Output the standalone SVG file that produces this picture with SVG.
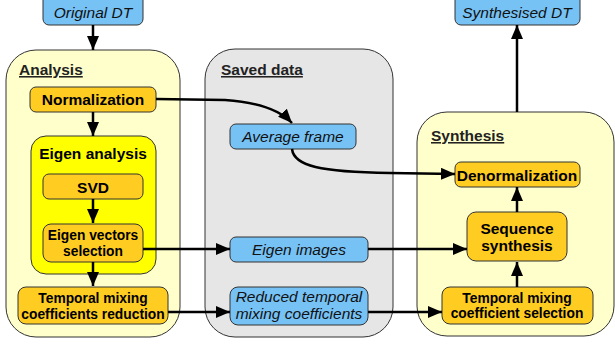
<svg xmlns="http://www.w3.org/2000/svg" width="615" height="347" viewBox="0 0 615 347">
<defs>
<marker id="ah" markerUnits="userSpaceOnUse" markerWidth="14" markerHeight="12" refX="14" refY="6" orient="auto">
<path d="M0,0 L14,6 L0,12 z" fill="#000"/>
</marker>
<style>
.cont{stroke:#333;stroke-width:1}
.blue{fill:#77c2f5;stroke:#333;stroke-width:1}
.org{fill:#ffcc22;stroke:#333;stroke-width:1}
.t{font-family:"Liberation Sans",Arial,sans-serif;font-size:15.5px;fill:#000;text-anchor:middle}
.b{font-weight:bold}
.i{font-style:italic;fill:#111}
.s{font-size:13.8px}
.title{font-family:"Liberation Sans",Arial,sans-serif;font-size:15.5px;font-weight:bold;fill:#222;text-decoration:underline}
.c{fill:none;stroke:#000;stroke-width:2.5;marker-end:url(#ah)}
.cn{fill:none;stroke:#000;stroke-width:2.5}
</style>
</defs>
<g id="analysis">
<rect class="cont" x="6" y="50" width="174" height="287" rx="30" fill="#ffffcc"/>
<text class="title" x="19" y="75">Analysis</text>
</g>
<g id="saved">
<rect class="cont" x="205" y="49" width="188" height="288" rx="30" fill="#e6e6e6"/>
<text class="title" x="221" y="75">Saved data</text>
</g>
<g id="synthesis">
<rect class="cont" x="417" y="112" width="197" height="224" rx="30" fill="#ffffcc"/>
<text class="title" x="431" y="141">Synthesis</text>
</g>
<g id="eigen-analysis">
<rect x="31" y="136" width="125" height="138" rx="15" fill="#ffff00" stroke="#333" stroke-width="1"/>
<text class="t b" x="93" y="159">Eigen analysis</text>
</g>
<g id="original-dt">
<rect class="blue" x="43" y="-6" width="100" height="31" rx="6"/>
<text class="t i" x="93" y="18">Original DT</text>
</g>
<g id="synthesised-dt">
<rect class="blue" x="455" y="-6" width="125" height="31" rx="6"/>
<text class="t i" x="517" y="18">Synthesised DT</text>
</g>
<g id="normalization">
<rect class="org" x="30" y="87" width="126" height="25" rx="6"/>
<text class="t b" x="93" y="105">Normalization</text>
</g>
<g id="svd">
<rect class="org" x="43" y="174" width="100" height="25" rx="6"/>
<text class="t b" x="93" y="193">SVD</text>
</g>
<g id="eigen-vectors">
<rect class="org" x="43" y="224" width="100" height="38" rx="8"/>
<text class="t b s" x="93" y="240">Eigen vectors</text>
<text class="t b s" x="93" y="256">selection</text>
</g>
<g id="temporal-reduction">
<rect class="org" x="18" y="287" width="150" height="37" rx="8"/>
<text class="t b s" x="93" y="303">Temporal mixing</text>
<text class="t b s" x="93" y="319">coefficients reduction</text>
</g>
<g id="average-frame">
<rect class="blue" x="230" y="124" width="126" height="25" rx="6"/>
<text class="t i" x="293" y="142">Average frame</text>
</g>
<g id="eigen-images">
<rect class="blue" x="230" y="237" width="138" height="25" rx="6"/>
<text class="t i" x="299" y="255">Eigen images</text>
</g>
<g id="reduced-coefficients">
<rect class="blue" x="230" y="287" width="138" height="38" rx="8"/>
<text class="t i" x="299" y="302">Reduced temporal</text>
<text class="t i" x="299" y="319">mixing coefficients</text>
</g>
<g id="denormalization">
<rect class="org" x="455" y="162" width="125" height="25" rx="6"/>
<text class="t b" x="517" y="181">Denormalization</text>
</g>
<g id="sequence-synthesis">
<rect class="org" x="467" y="212" width="100" height="49" rx="9"/>
<text class="t b" x="517" y="234">Sequence</text>
<text class="t b" x="517" y="251">synthesis</text>
</g>
<g id="coefficient-selection">
<rect class="org" x="442" y="287" width="151" height="37" rx="8"/>
<text class="t b s" x="517" y="303">Temporal mixing</text>
<text class="t b s" x="517" y="318">coefficient selection</text>
</g>
<g id="connectors">
<path class="c" d="M93,25 L93,50"/>
<path class="c" d="M93,112 L93,136"/>
<path class="c" d="M93,199 L93,223"/>
<path class="c" d="M93,262 L93,286"/>
<path class="c" d="M156,99 L225,100 C255,102 278,108 292,123"/>
<path class="c" d="M292,149 C294,166 320,172 390,173 L455,174"/>
<path class="c" d="M143,249 L230,249"/>
<path class="c" d="M368,249 L467,249"/>
<path class="c" d="M168,312 L230,312"/>
<path class="c" d="M368,312 L442,312"/>
<path class="c" d="M517,287 L517,262"/>
<path class="c" d="M517,212 L517,187"/>
<path class="c" d="M517,112 L517,25"/>
</g>
</svg>
